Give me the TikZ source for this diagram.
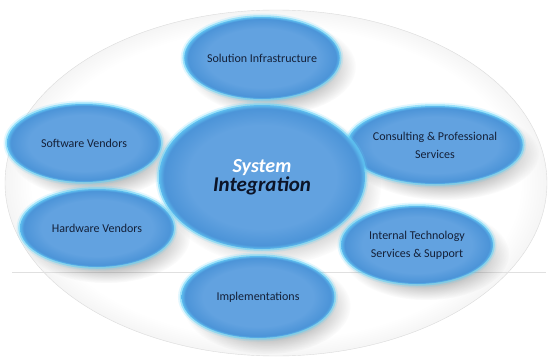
\documentclass[tikz,border=0pt]{standalone}
\usepackage{fontspec}
\setmainfont{Carlito}
\usetikzlibrary{shapes.geometric,fadings,calc}

\definecolor{bubin}{RGB}{98,162,224}
\definecolor{bubmid}{RGB}{76,148,216}
\definecolor{bubedge}{RGB}{92,188,238}
\definecolor{glowcyan}{RGB}{100,212,250}
\definecolor{labelnavy}{RGB}{20,32,56}
\definecolor{deepnavy}{RGB}{12,20,40}

\pgfdeclareradialshading{bubshade}{\pgfpoint{0bp}{0bp}}{color(0bp)=(bubin); color(18bp)=(bubin); color(23.8bp)=(bubmid); color(25bp)=(bubedge); color(50bp)=(bubedge)}
\pgfdeclareradialshading{backshade}{\pgfpoint{0bp}{0bp}}{color(0bp)=(white); color(22.5bp)=(white); color(25bp)=(black!4); color(50bp)=(black!4)}
\pgfdeclareradialshading{shadowshape}{\pgfpoint{0bp}{0bp}}{color(0bp)=(white!62!black); color(13bp)=(white!58!black); color(25bp)=(black); color(50bp)=(black)}
\pgfdeclarefading{softshadow}{\pgfuseshading{shadowshape}}

\pgfdeclarelayer{back}
\pgfdeclarelayer{shadow}
\pgfsetlayers{back,shadow,main}

\tikzset{
  bubble/.style={ellipse, inner sep=0pt, align=center, text=labelnavy,
    font=\fontsize{12}{18}\selectfont, shading=bubshade,
    preaction={draw=glowcyan, line width=7pt, opacity=0.18},
    preaction={draw=glowcyan, line width=3.5pt, opacity=0.55}},
  small bubble/.style={bubble, minimum width=154pt, minimum height=78pt},
  shadowblob/.style={fill=black!60, path fading=softshadow},
}

\begin{document}
\begin{tikzpicture}[x=1pt,y=-1pt]
  \useasboundingbox (0,0) rectangle (551,361);

  \node[small bubble, minimum height=82pt] (infra) at (262,58) {Solution Infrastructure};
  \node[small bubble] (software) at (84,143) {Software Vendors};
  \node[small bubble] (hardware) at (97,228) {Hardware Vendors};
  \node[small bubble] (consult) at (435,145) {Consulting \& Professional\\Services};
  \node[small bubble, minimum width=152pt] (internal) at (417,245) {Internal Technology\\Services \& Support};

  \node[bubble, minimum width=206pt, minimum height=144pt,
    font=\bfseries\itshape\fontsize{20}{17}\selectfont, text=deepnavy] (si) at (262,177)
    {\textcolor{white}{System}\\\fontsize{21}{17}\selectfont Integration};

  \node[small bubble, minimum width=153pt, minimum height=82pt] (impl) at (258,297) {Implementations};

  \begin{pgfonlayer}{back}
    \path[shading=backshade, draw=black!14] (276,183) ellipse [x radius=271pt, y radius=173pt];
    \coordinate (lineL) at (12,272);
    \coordinate (lineR) at (546,272);
    \draw[black!12] (lineL) -- (lineR);
  \end{pgfonlayer}

  \begin{pgfonlayer}{shadow}
    \foreach \b in {infra,software,hardware,consult,internal,si,impl}
      \path let \p1=(\b.east), \p2=(\b.west), \p3=(\b.north), \p4=(\b.south) in
        [shadowblob] ($(\b.center)+(9,9)$) ellipse [x radius={(\x1-\x2)/2+7pt}, y radius={(\y3-\y4)/2+7pt}];
  \end{pgfonlayer}
\end{tikzpicture}
\end{document}
